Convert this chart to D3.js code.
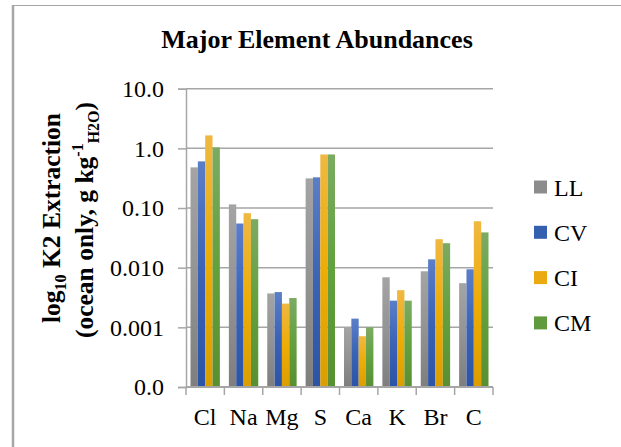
<!DOCTYPE html>
<html><head><meta charset="utf-8">
<script src="https://cdn.jsdelivr.net/npm/d3@7"></script>
<style>html,body{margin:0;padding:0;background:#fff;}svg{display:block;}</style>
</head><body>
<svg id="chart" width="621" height="447"></svg>
<script>
const categories = ["Cl","Na","Mg","S","Ca","K","Br","C"];
const seriesNames = ["LL","CV","CI","CM"];
const LL = [0.48, 0.115, 0.0037, 0.314, 0.0010, 0.0069, 0.0087, 0.0055];
const CV = [0.605, 0.055, 0.0039, 0.327, 0.0014, 0.0028, 0.0138, 0.0094];
const CI = [1.65, 0.082, 0.0025, 0.79, 0.00071, 0.0042, 0.030, 0.060];
const CM = [1.04, 0.065, 0.0031, 0.79, 0.0010, 0.0028, 0.0257, 0.039];
const tickValues = [10, 1, 0.1, 0.01, 0.001, 0.0001];
const tickLabels = ["10.0","1.0","0.10","0.010","0.001","0.0"];
const seriesValues = [LL, CV, CI, CM];

(function(){
const colors = {
  LL: ["#a4a4a4","#939393","#7e7e7e"],
  CV: ["#5b7ec8","#3a63b5","#2b54a6"],
  CI: ["#f0b842","#eeac05","#db9d00"],
  CM: ["#7bab62","#63a03e","#588f31"]
};
const legendColors = {LL:"#8c8c8c", CV:"#3560b0", CI:"#eaaa10", CM:"#609a3c"};

const svg = d3.select("#chart");
const font = "'Liberation Serif','Times New Roman',serif";
const grid = "#a6a6a6";

// frame
svg.append("line").attr("x1",13).attr("x2",13).attr("y1",5).attr("y2",447).attr("stroke",grid).attr("stroke-width",2.5);
svg.append("line").attr("x1",12).attr("x2",621).attr("y1",5.5).attr("y2",5.5).attr("stroke",grid).attr("stroke-width",1);

const defs = svg.append("defs");
seriesNames.forEach(s => {
  const g = defs.append("linearGradient").attr("id","g"+s).attr("x1",0).attr("x2",0).attr("y1",0).attr("y2",1);
  g.append("stop").attr("offset","0%").attr("stop-color",colors[s][0]);
  g.append("stop").attr("offset","50%").attr("stop-color",colors[s][1]);
  g.append("stop").attr("offset","100%").attr("stop-color",colors[s][2]);
});

const pLeft = 186, pRight = 493, pTop = 88.7, pBottom = 387;
const x0 = d3.scaleBand().domain(categories).range([pLeft, pRight]).padding(0);
const gapHalf = 4.5;
const x1 = d3.scaleBand().domain(seriesNames).range([gapHalf, x0.bandwidth() - gapHalf]).padding(0);
const y = d3.scaleLog().domain([0.0001, 10]).range([pBottom, pTop]);

// gridlines
svg.append("g").selectAll("line").data(tickValues.filter(v => v > 0.0001)).join("line")
  .attr("x1", pLeft).attr("x2", pRight)
  .attr("y1", d => y(d)).attr("y2", d => y(d))
  .attr("stroke", grid).attr("stroke-width", 1.5);

// y axis
const yAxis = d3.axisLeft(y).tickValues(tickValues).tickFormat((d,i) => tickLabels[i]).tickSizeOuter(0).tickSize(8).tickPadding(14);
const ya = svg.append("g").attr("transform", `translate(${pLeft},0)`).call(yAxis);
ya.select(".domain").attr("stroke", grid).attr("stroke-width", 1.5);
ya.selectAll(".tick line").attr("stroke", grid).attr("stroke-width", 1.5);
ya.selectAll(".tick text").attr("font-family", font).attr("font-size", 24).attr("fill", "#000").attr("dy", "0.33em");

// bars
const gBars = svg.append("g");
categories.forEach((c, ci) => {
  seriesNames.forEach((s, si) => {
    const v = seriesValues[si][ci];
    gBars.append("rect")
      .attr("x", x0(c) + x1(s))
      .attr("width", x1.bandwidth())
      .attr("y", y(v))
      .attr("height", pBottom - y(v))
      .attr("fill", `url(#g${s})`);
  });
});

// x axis
const xa = svg.append("g").attr("transform", `translate(0,${pBottom})`);
xa.append("line").attr("x1", pLeft).attr("x2", pRight).attr("stroke", grid).attr("stroke-width", 2);
const bounds = categories.map(c => x0(c)).concat([pRight]);
xa.selectAll(".tk").data(bounds).join("line").attr("class","tk")
  .attr("x1", d => d).attr("x2", d => d).attr("y1", 0).attr("y2", 8)
  .attr("stroke", grid).attr("stroke-width", 1.5);
xa.selectAll(".lbl").data(categories).join("text").attr("class","lbl")
  .attr("x", d => x0(d) + x0.bandwidth()/2).attr("y", 38)
  .attr("text-anchor","middle").attr("font-family", font).attr("font-size", 24).text(d => d);

// title
svg.append("text").attr("x", 317).attr("y", 48).attr("text-anchor","middle")
  .attr("font-family", font).attr("font-size", 26).attr("font-weight","bold").text("Major Element Abundances");

// y axis title
const t1 = svg.append("text").attr("transform","translate(60,218) rotate(-90)").attr("text-anchor","middle")
  .attr("font-family", font).attr("font-size", 25.5).attr("font-weight","bold");
t1.append("tspan").text("log");
t1.append("tspan").attr("font-size", 16).attr("dy", 6).text("10");
t1.append("tspan").attr("dy", -6).text(" K2 Extraction");
const t2 = svg.append("text").attr("transform","translate(93,220) rotate(-90)").attr("text-anchor","middle")
  .attr("font-family", font).attr("font-size", 25.5).attr("font-weight","bold");
t2.append("tspan").text("(ocean only, g kg");
t2.append("tspan").attr("font-size", 16).attr("dy", -10).text("-1");
t2.append("tspan").attr("font-size", 16).attr("dy", 16).text("H2O");
t2.append("tspan").attr("dy", -6).text(")");

// legend
const lg = svg.append("g");
seriesNames.forEach((s, i) => {
  const cy = 187 + i * 45.3;
  lg.append("rect").attr("x", 534).attr("y", cy - 6.5).attr("width", 13).attr("height", 13).attr("fill", legendColors[s]);
  lg.append("text").attr("x", 554).attr("y", cy + 8.5).attr("font-family", font).attr("font-size", 24).text(s);
});
})();
</script>
</body></html>
